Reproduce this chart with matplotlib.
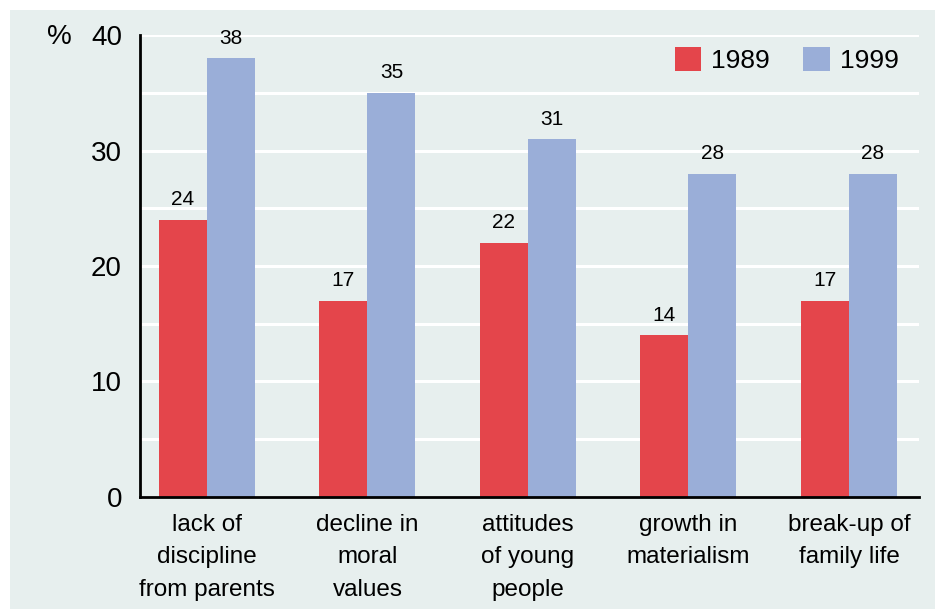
import numpy as np
import matplotlib.pyplot as plt
from matplotlib.patches import Rectangle

# data
categories = ["lack of\ndiscipline\nfrom parents", "decline in\nmoral\nvalues",
              "attitudes\nof young\npeople", "growth in\nmaterialism",
              "break-up of\nfamily life"]
vals_1989 = [24, 17, 22, 14, 17]
vals_1999 = [38, 35, 31, 28, 28]
years = ["1989", "1999"]

red = "#e4454b"
blue = "#9aaed8"
bg = "#e7efee"

plt.rcParams['font.family'] = ['Liberation Sans', 'DejaVu Sans']

fig = plt.figure(figsize=(9.35, 6.11), dpi=100)
fig.patch.set_facecolor("white")
fig.patches.append(Rectangle((10 / 935, 0.003), 1, 1 - 10 / 611 - 0.003,
                             transform=fig.transFigure, facecolor=bg,
                             edgecolor="none", zorder=-10))

ax = fig.add_axes([0.1497, 0.1866, 0.8332, 0.7561])
ax.set_facecolor(bg)

x = np.arange(len(categories))
w = 0.299
b1 = ax.bar(x - w / 2, vals_1989, w, color=red, label=years[0], zorder=3)
b2 = ax.bar(x + w / 2, vals_1999, w, color=blue, label=years[1], zorder=3)

for bars in (b1, b2):
    for rect in bars:
        h = rect.get_height()
        ax.annotate(f"{h:.0f}", (rect.get_x() + rect.get_width() / 2, h),
                    xytext=(0, 7.5), textcoords="offset points",
                    ha="center", va="bottom", fontsize=15)

ax.set_xlim(-0.417, 4.436)
ax.set_ylim(0, 40)
ax.set_yticks([0, 10, 20, 30, 40])
ax.set_yticks(np.arange(5, 41, 5), minor=True)
ax.grid(axis="y", which="both", color="white", lw=2.2, zorder=0)
ax.set_xticks(x)
ax.set_xticklabels(categories, fontsize=17.5, linespacing=1.62, va="top")
ax.tick_params(axis="x", length=0, pad=12)
ax.tick_params(axis="y", which="both", length=0, pad=13, labelsize=20)

for s in ["top", "right"]:
    ax.spines[s].set_visible(False)
for s in ["left", "bottom"]:
    ax.spines[s].set_linewidth(2)
    ax.spines[s].set_color("black")
    ax.spines[s].set_zorder(4)

fig.text(0.063, 0.94, "%", fontsize=20, ha="center", va="center")

ax.legend(loc="center right", bbox_to_anchor=(0.975, 0.902),
          bbox_transform=fig.transFigure, ncol=2, frameon=False,
          fontsize=19, handlelength=1.0, handleheight=1.0,
          handletextpad=0.38, columnspacing=1.25, borderpad=0)

fig.savefig("out.png", dpi=100, facecolor=fig.get_facecolor())
